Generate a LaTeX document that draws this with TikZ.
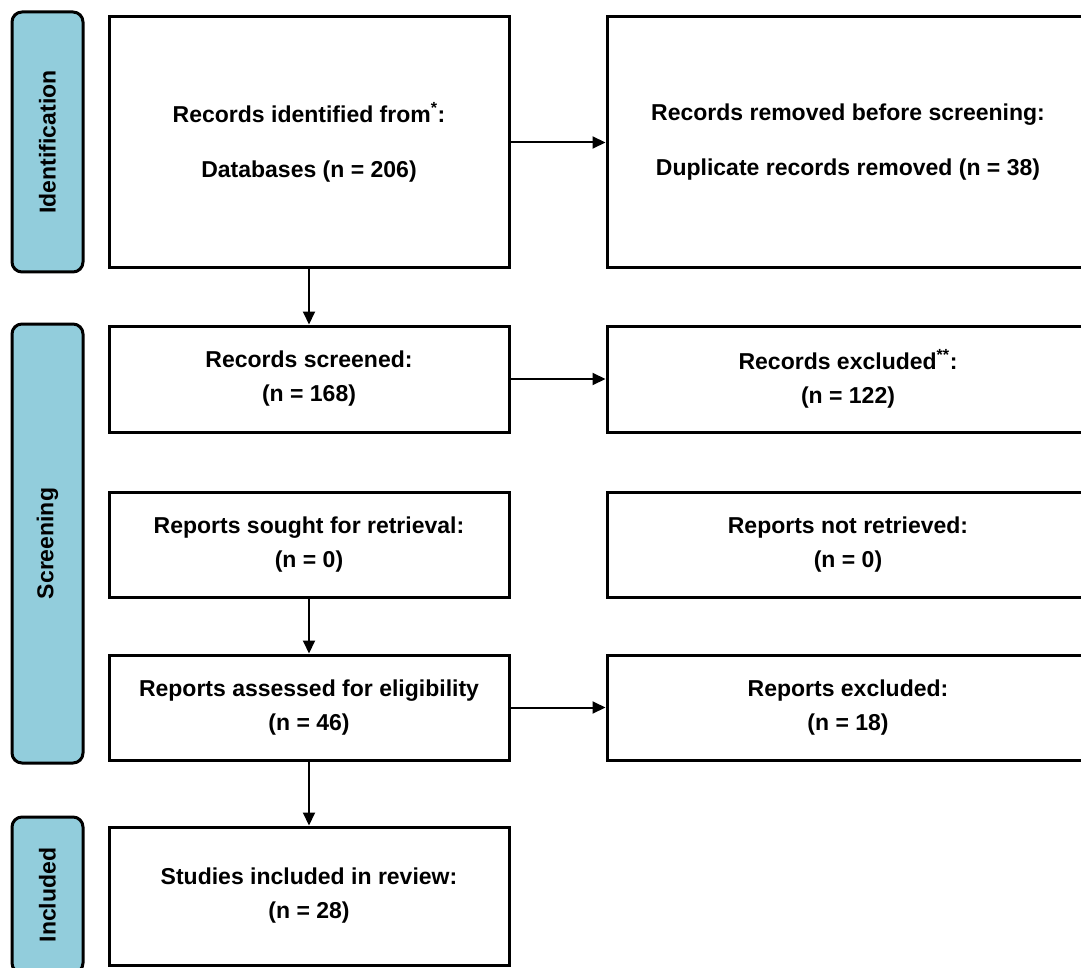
\documentclass[tikz,border=0pt]{standalone}
\usepackage{fontspec}
\setmainfont{Liberation Sans}
\usetikzlibrary{arrows.meta}
\definecolor{barblue}{RGB}{146,205,220}
\begin{document}
\begin{tikzpicture}[x=1pt,y=-1pt,
  flowbox/.style={draw=black,line width=3pt,fill=white,inner sep=0pt,align=center,
    font=\fontsize{23}{34}\selectfont\bfseries},
  phasebar/.style={draw=black,line width=3pt,fill=barblue,rounded corners=10pt,inner sep=0pt,
    minimum width=71pt},
  phaselabel/.style={rotate=90,font=\fontsize{23}{26}\selectfont\bfseries},
  flowarrow/.style={line width=2pt,-{Triangle[length=13pt,width=12pt]}}]
\useasboundingbox (0,0) rectangle (1081,968);
\clip (0,0) rectangle (1081,968);
% phase bars
\node[phasebar,minimum height=260pt] (pid) at (47.5,142) {};
\node[phaselabel] (lid) at (pid.center) {Identification};
\node[phasebar,minimum height=439pt] (pscr) at (47.5,543.5) {};
\node[phaselabel] (lscr) at (pscr.center) {Screening};
\node[phasebar,minimum height=156pt] (pinc) at (47.5,895) {};
\node[phaselabel] (linc) at (pinc.center) {Included};
% boxes
\node[flowbox,minimum width=400pt,minimum height=251pt] (b1) at (309,142.5)
  {Records identified from\textsuperscript{*}:\\[21pt]Databases (n = 206)};
\node[flowbox,minimum width=482pt,minimum height=251pt] (b2) at (848,142.5)
  {Records removed before screening:\\[21pt]Duplicate records removed (n = 38)};
\node[flowbox,minimum width=400pt,minimum height=106pt] (b3) at (309,379)
  {Records screened:\\(n = 168)};
\node[flowbox,minimum width=482pt,minimum height=106pt] (b4) at (848,379)
  {Records excluded\textsuperscript{**}:\\(n = 122)};
\node[flowbox,minimum width=400pt,minimum height=105pt] (b5) at (309,545)
  {Reports sought for retrieval:\\(n = 0)};
\node[flowbox,minimum width=482pt,minimum height=105pt] (b6) at (848,545)
  {Reports not retrieved:\\(n = 0)};
\node[flowbox,minimum width=400pt,minimum height=105pt] (b7) at (309,707.5)
  {Reports assessed for eligibility\\(n = 46)};
\node[flowbox,minimum width=482pt,minimum height=105pt] (b8) at (848,707.5)
  {Reports excluded:\\(n = 18)};
\node[flowbox,minimum width=400pt,minimum height=138pt] (b9) at (309,896)
  {Studies included in review:\\(n = 28)};
% arrows
\draw[flowarrow] (b1) -- (b2);
\draw[flowarrow] (b1) -- (b3);
\draw[flowarrow] (b3) -- (b4);
\draw[flowarrow] (b5) -- (b7);
\draw[flowarrow] (b7) -- (b8);
\draw[flowarrow] (b7) -- (b9);
\end{tikzpicture}
\end{document}
